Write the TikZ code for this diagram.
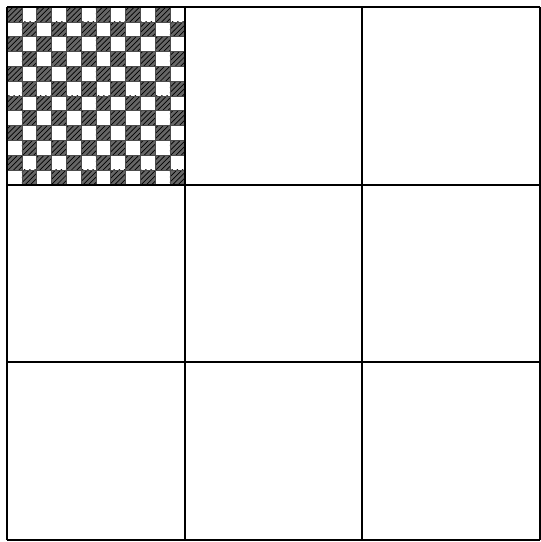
\documentclass[tikz,border=0pt]{standalone}
\usetikzlibrary{patterns}

\begin{document}
\begin{tikzpicture}[line width=1.1pt]
  \def\S{3.553}
  \def\q{0.29608}
  \useasboundingbox (0,0) rectangle (10.82,10.84);
  \fill[white] (0,0) rectangle (10.82,10.84);
  \begin{scope}[shift={(0.14,0.04)}]
    % checkered board in the upper left square
    \foreach \i in {0,...,11} {
      \foreach \j in {0,...,11} {
        \pgfmathparse{int(mod(\i+\j,2))}
        \ifnum\pgfmathresult=0
          \fill[black!60] (\j*\q,3*\S-\i*\q) rectangle ++(\q,-\q);
          \fill[pattern=north east lines,pattern color=black] (\j*\q,3*\S-\i*\q) rectangle ++(\q,-\q);
        \fi
      }
    }
    \draw[line width=0.3pt,black!70] (0,2*\S) grid[step=\q] (\S,3*\S);
    % the nine squares
    \foreach \k in {0,...,3} {
      \draw (\k*\S,0) -- (\k*\S,3*\S);
      \draw (0,\k*\S) -- (3*\S,\k*\S);
    }
  \end{scope}
\end{tikzpicture}
\end{document}
